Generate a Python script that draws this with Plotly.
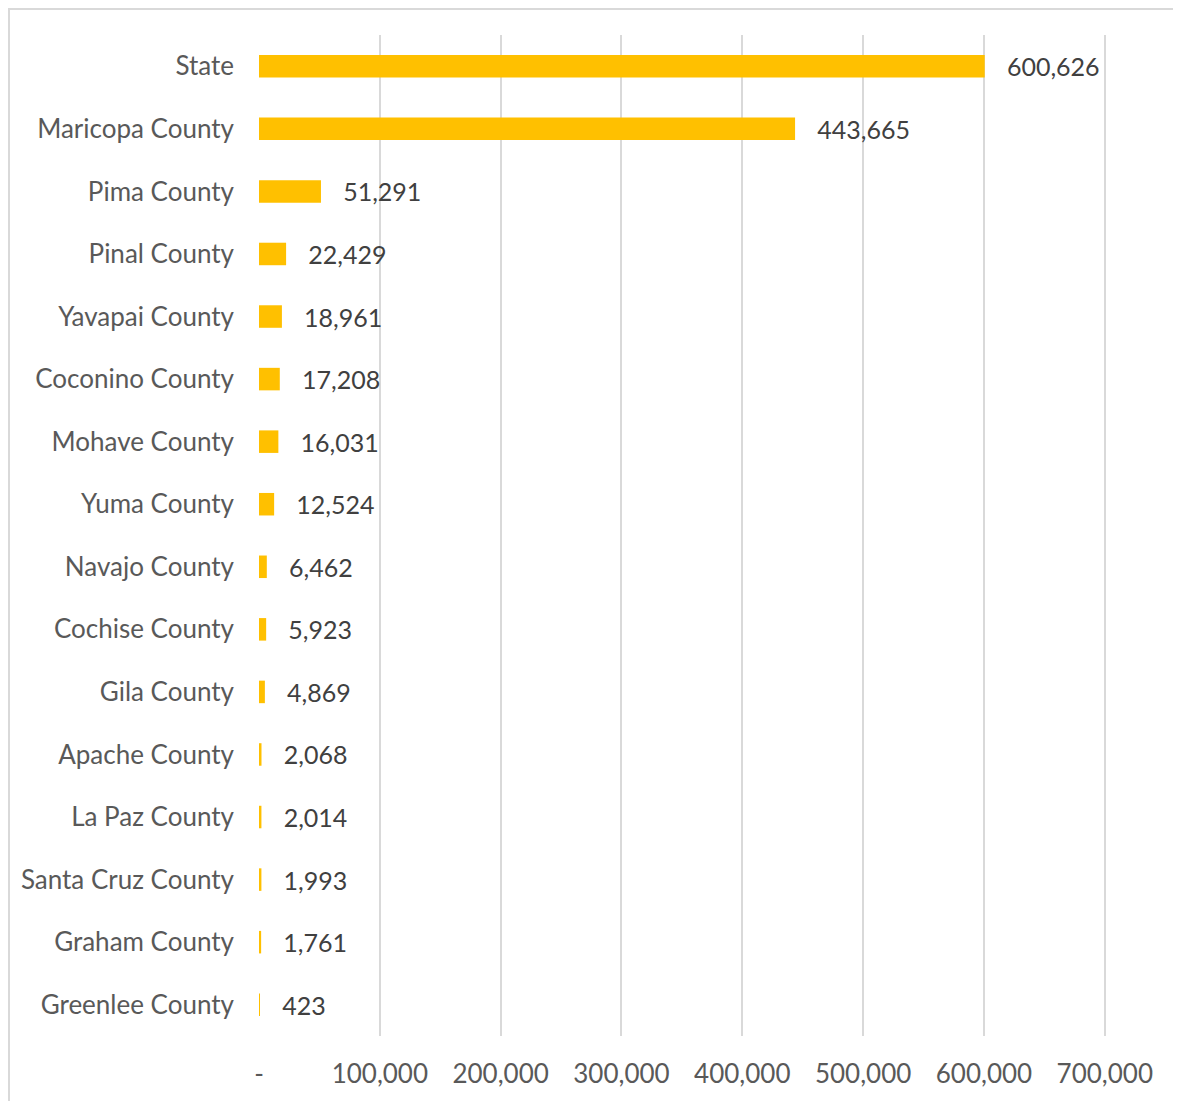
import plotly.graph_objects as go

categories = ["State", "Maricopa County", "Pima County", "Pinal County", "Yavapai County",
              "Coconino County", "Mohave County", "Yuma County", "Navajo County",
              "Cochise County", "Gila County", "Apache County", "La Paz County",
              "Santa Cruz County", "Graham County", "Greenlee County"]
values = [600626, 443665, 51291, 22429, 18961, 17208, 16031, 12524, 6462,
          5923, 4869, 2068, 2014, 1993, 1761, 423]
tick_vals = [0, 100000, 200000, 300000, 400000, 500000, 600000, 700000]
tick_text = ["-", "100,000", "200,000", "300,000", "400,000", "500,000", "600,000", "700,000"]

# page body has an 8px default margin
W, H = 1173, 1093
ml, mr, mt, mb = 251, 75, 27, 63
FONT = "Lato, Open Sans, sans-serif"

fig = go.Figure(go.Bar(
    y=categories, x=values, orientation="h",
    marker=dict(color="#FFC000", line=dict(width=0)),
    width=0.36,
    text=["\u00a0\u00a0\u00a0" + f"{v:,}" for v in values],
    textposition="outside",
    constraintext="none",
    textfont=dict(family=FONT, size=25, color="#404040"),
    cliponaxis=False,
))

pw = W - ml - mr
ph = H - mt - mb
fig.add_shape(type="rect", xref="paper", yref="paper",
              x0=(1 - ml) / pw, x1=1 + (mr + 20) / pw, y0=-(mb + 20) / ph, y1=1 + (mt - 1) / ph,
              line=dict(color="#D9D9D9", width=2), fillcolor="rgba(0,0,0,0)", layer="below")

fig.update_layout(
    width=W, height=H,
    margin=dict(l=ml, r=mr, t=mt, b=mb),
    plot_bgcolor="white", paper_bgcolor="white",
    showlegend=False,
    font=dict(family=FONT, size=26, color="#595959"),
    xaxis=dict(range=[0, 701000], tickvals=tick_vals, ticktext=tick_text,
               showgrid=True, gridcolor="#D9D9D9", gridwidth=2,
               zeroline=False, showline=False, ticks="",
               ticklabelstandoff=20,
               tickfont=dict(family=FONT, size=26, color="#595959")),
    yaxis=dict(autorange="reversed", showgrid=False, zeroline=False, showline=False,
               ticks="", ticklabelstandoff=24,
               tickfont=dict(family=FONT, size=26, color="#595959")),
    bargap=0.64,
)

fig.write_html("out.html")
